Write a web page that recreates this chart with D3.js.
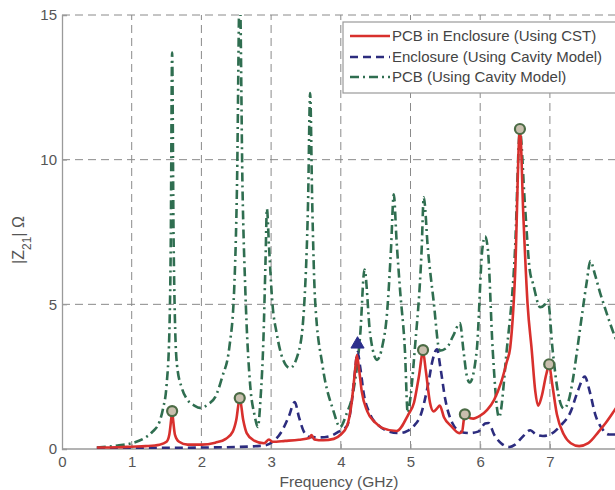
<!DOCTYPE html>
<html>
<head>
<meta charset="utf-8">
<script src="https://cdn.jsdelivr.net/npm/d3@7"></script>
<style>
  html, body { margin: 0; padding: 0; background: #fff; }
  svg { display: block; font-family: "Liberation Sans", Arial, sans-serif; }
</style>
</head>
<body>
<svg id="chart" width="615" height="490"></svg>
<script>
// ---------- data (frequency in GHz, |Z21| in ohm) ----------
const xTicks = [0, 1, 2, 3, 4, 5, 6, 7, 8];
const yTicks = [0, 5, 10, 15];
const seriesNames = ["PCB in Enclosure (Using CST)", "Enclosure (Using Cavity Model)", "PCB (Using Cavity Model)"];

const cstCurve = [
  [0.5,0.05],[0.8,0.06],[1.0,0.08],[1.2,0.1],[1.4,0.15],[1.5,0.25],[1.54,0.5],[1.57,1.1],[1.58,1.3],
  [1.59,1.1],[1.62,0.5],[1.68,0.25],[1.8,0.15],[2.0,0.15],[2.2,0.22],[2.35,0.35],[2.45,0.6],[2.5,1.0],
  [2.55,1.75],[2.6,1.0],[2.65,0.55],[2.75,0.3],[2.9,0.2],[2.97,0.33],[3.02,0.25],[3.2,0.28],[3.4,0.32],
  [3.55,0.38],[3.58,0.48],[3.62,0.33],[3.75,0.3],[3.9,0.35],[4.0,0.5],[4.09,0.8],[4.15,1.5],[4.2,2.6],
  [4.23,3.25],[4.26,2.8],[4.3,2.0],[4.38,1.3],[4.5,0.9],[4.6,0.72],[4.8,0.62],[4.97,1.2],[5.05,1.6],
  [5.12,2.5],[5.18,3.35],[5.22,2.7],[5.28,1.6],[5.33,1.3],[5.38,1.4],[5.42,1.5],[5.48,1.1],[5.58,0.8],
  [5.7,0.55],[5.74,0.6],[5.77,1.1],[5.78,1.2],[5.82,1.1],[5.9,1.05],[6.0,1.15],[6.1,1.35],[6.2,1.7],
  [6.3,2.3],[6.38,3.0],[6.43,3.5],[6.5,6.0],[6.57,11.05],[6.62,8.0],[6.68,5.0],[6.74,3.4],[6.79,2.0],
  [6.83,1.5],[6.88,1.8],[6.95,2.6],[6.99,2.9],[7.03,2.3],[7.1,1.2],[7.2,0.5],[7.3,0.2],[7.42,0.1],
  [7.55,0.2],[7.7,0.6],[7.8,0.9],[7.93,1.35],[8.0,1.6]
];

const enclosureCurve = [
  [0.5,0.03],[1.0,0.04],[1.5,0.04],[2.0,0.05],[2.5,0.07],[2.9,0.12],[3.05,0.3],[3.15,0.6],[3.25,1.1],
  [3.34,1.62],[3.4,1.1],[3.47,0.6],[3.55,0.42],[3.7,0.4],[3.85,0.45],[3.97,0.6],[4.09,0.8],[4.15,1.5],
  [4.2,2.6],[4.24,3.35],[4.28,2.8],[4.33,1.9],[4.42,1.2],[4.55,0.8],[4.7,0.6],[4.85,0.55],[4.95,0.62],
  [5.05,0.8],[5.15,1.2],[5.25,2.2],[5.32,3.1],[5.38,3.45],[5.43,2.8],[5.5,1.7],[5.6,0.9],[5.72,0.6],
  [5.85,0.55],[5.97,0.6],[6.07,0.88],[6.12,0.9],[6.2,0.5],[6.3,0.2],[6.42,0.07],[6.5,0.15],[6.6,0.4],
  [6.72,0.65],[6.8,0.5],[6.9,0.45],[7.0,0.5],[7.15,0.8],[7.3,1.3],[7.4,2.0],[7.5,2.5],[7.57,2.0],
  [7.65,1.2],[7.75,0.7],[7.85,0.5],[7.95,0.5],[8.0,0.55]
];

const pcbCurve = [
  [0.5,0.05],[0.8,0.12],[1.0,0.2],[1.2,0.4],[1.3,0.6],[1.4,0.95],[1.45,1.4],[1.5,2.2],[1.54,4.0],
  [1.56,7.0],[1.58,13.7],[1.6,7.5],[1.62,4.5],[1.65,2.9],[1.72,2.1],[1.8,1.7],[1.9,1.5],[1.98,1.42],
  [2.1,1.55],[2.2,1.8],[2.3,2.5],[2.4,3.5],[2.47,5.5],[2.51,9.0],[2.55,16.0],[2.59,9.0],[2.63,5.5],
  [2.7,2.2],[2.76,1.2],[2.81,0.76],[2.85,1.8],[2.89,3.8],[2.92,6.5],[2.94,8.3],[2.97,7.0],[3.02,5.0],
  [3.08,4.0],[3.17,3.1],[3.27,2.8],[3.4,3.4],[3.48,5.2],[3.53,8.5],[3.56,12.3],[3.59,8.5],[3.63,5.2],
  [3.74,2.85],[3.89,1.35],[3.99,0.76],[4.08,1.2],[4.18,2.0],[4.28,4.0],[4.34,6.2],[4.42,4.0],[4.52,3.08],
  [4.6,3.6],[4.66,4.6],[4.72,6.9],[4.76,8.8],[4.8,7.2],[4.85,5.5],[4.92,3.4],[4.96,1.25],[5.0,1.8],
  [5.06,3.4],[5.16,6.9],[5.19,8.7],[5.25,6.9],[5.33,5.15],[5.42,3.4],[5.52,3.5],[5.61,3.9],[5.71,4.35],
  [5.76,3.4],[5.81,2.5],[5.85,2.3],[5.95,3.4],[6.03,6.9],[6.07,7.35],[6.11,6.9],[6.18,3.4],[6.27,1.1],
  [6.38,3.4],[6.5,6.9],[6.57,11.0],[6.64,8.5],[6.71,6.2],[6.76,5.7],[6.86,4.9],[6.93,5.0],[6.97,5.15],
  [7.04,3.4],[7.12,1.9],[7.2,1.4],[7.26,1.6],[7.33,2.4],[7.39,3.4],[7.47,4.8],[7.53,5.8],[7.58,6.5],
  [7.65,6.0],[7.72,5.4],[7.8,4.8],[7.93,3.9],[8.0,3.5]
];

const circleMarks = [[1.58,1.31],[2.55,1.76],[5.18,3.42],[5.78,1.2],[6.57,11.06],[6.99,2.93]];
const triangleMarks = [[4.24,3.62]];

// ---------- layout ----------
const svg = d3.select("#chart");
const x = d3.scaleLinear().domain([0, 8]).range([62, 62 + 8 * 69.7]);
const y = d3.scaleLinear().domain([0, 15]).range([449, 15]);

const gridColor = "#8a8a8a";
const textColor = "#555";

svg.append("defs").append("clipPath").attr("id", "plotClip")
  .append("rect").attr("x", 62).attr("y", 15).attr("width", 600).attr("height", 434);

// grid
const grid = svg.append("g");
grid.selectAll("line.vg").data(xTicks.filter(d => d > 0)).join("line")
  .attr("x1", d => x(d)).attr("x2", d => x(d))
  .attr("y1", y(0)).attr("y2", y(15))
  .attr("stroke", gridColor).attr("stroke-width", 1).attr("stroke-dasharray", "8,5");
grid.selectAll("line.hg").data(yTicks.filter(d => d > 0)).join("line")
  .attr("x1", x(0)).attr("x2", 620)
  .attr("y1", d => y(d)).attr("y2", d => y(d))
  .attr("stroke", gridColor).attr("stroke-width", 1).attr("stroke-dasharray", "8,5");

// axes
const xAxis = d3.axisBottom(x).tickValues(xTicks).tickSize(-5).tickPadding(7).tickFormat(d3.format("d"));
const yAxis = d3.axisLeft(y).tickValues(yTicks).tickSize(-5).tickPadding(5).tickFormat(d3.format("d"));

const gx = svg.append("g").attr("transform", `translate(0,${y(0)})`).call(xAxis);
const gy = svg.append("g").attr("transform", `translate(${x(0)},0)`).call(yAxis);
[gx, gy].forEach(g => {
  g.select(".domain").attr("stroke", "#9a9a9a").attr("stroke-width", 1.3);
  g.selectAll(".tick line").attr("stroke", "#9a9a9a");
  g.selectAll(".tick text").attr("fill", textColor).style("font-size", "15px")
    .style("font-family", "'Liberation Sans', Arial, sans-serif");
});
gx.select(".domain").attr("d", `M${x(0)},0H620`);

// axis labels
svg.append("text").attr("x", 339).attr("y", 487).attr("text-anchor", "middle")
  .attr("fill", textColor).style("font-size", "15.5px").text("Frequency (GHz)");
const yl = svg.append("text").attr("transform", "translate(24,240) rotate(-90)")
  .attr("text-anchor", "middle").attr("fill", textColor).style("font-size", "16px");
yl.append("tspan").text("|Z");
yl.append("tspan").attr("baseline-shift", "sub").style("font-size", "12px").text("21");
yl.append("tspan").text("| \u03A9");

// lines
const line = d3.line().x(d => x(d[0])).y(d => y(d[1])).curve(d3.curveMonotoneX);
const plot = svg.append("g").attr("clip-path", "url(#plotClip)");

const styles = [
  {data: pcbCurve, color: "#2f6e50", dash: "9,4,2,4", width: 2.6},
  {data: enclosureCurve, color: "#2c2c7e", dash: "8,5", width: 2.6},
  {data: cstCurve, color: "#d8302d", dash: null, width: 2.6}
];
styles.forEach(s => {
  plot.append("path").datum(s.data).attr("d", line)
    .attr("fill", "none").attr("stroke", s.color).attr("stroke-width", s.width)
    .attr("stroke-dasharray", s.dash).attr("stroke-linejoin", "round");
});

// markers
plot.selectAll("circle.mk").data(circleMarks).join("circle")
  .attr("cx", d => x(d[0])).attr("cy", d => y(d[1])).attr("r", 5)
  .attr("fill", "#c9bfae").attr("stroke", "#4b6b45").attr("stroke-width", 2.2);
const tri = d3.symbol().type(d3.symbolTriangle).size(75);
plot.selectAll("path.tri").data(triangleMarks).join("path")
  .attr("d", tri).attr("transform", d => `translate(${x(d[0])},${y(d[1])})`)
  .attr("fill", "#2c2f8c").attr("stroke", "#2c2f8c").attr("stroke-width", 1);

// legend
const lg = svg.append("g");
lg.append("rect").attr("x", 343).attr("y", 22).attr("width", 280).attr("height", 71)
  .attr("fill", "#fff").attr("stroke", "#9a9a9a").attr("stroke-width", 1.2);
const legendStyles = [styles[2], styles[1], styles[0]];
const rowsY = [36, 57, 77];
seriesNames.forEach((name, i) => {
  const s = legendStyles[i];
  lg.append("line").attr("x1", 350).attr("x2", 390).attr("y1", rowsY[i]).attr("y2", rowsY[i])
    .attr("stroke", s.color).attr("stroke-width", 2.6).attr("stroke-dasharray", s.dash);
  lg.append("text").attr("x", 392).attr("y", rowsY[i] + 5).attr("fill", "#444")
    .style("font-size", "15px").text(name);
});
</script>
</body>
</html>
